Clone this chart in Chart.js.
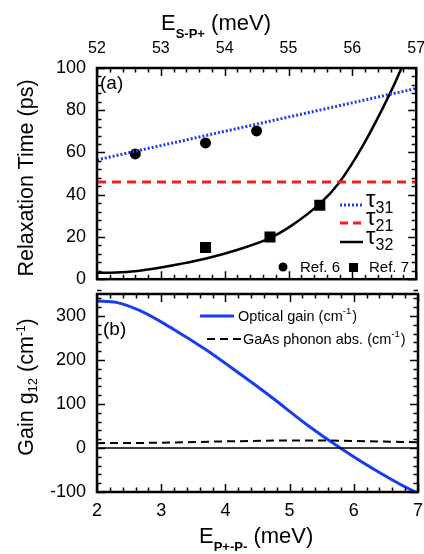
<!DOCTYPE html>
<html>
<head>
<meta charset="utf-8">
<script src="https://cdn.jsdelivr.net/npm/chart.js@4.4.0/dist/chart.umd.min.js"></script>
<style>
  body { margin: 0; background: #fff; font-family: "Liberation Sans", Arial, sans-serif; }
  #wrap { position: relative; width: 424px; height: 554px; overflow: hidden; }
  #topChart { position: absolute; left: 0; top: 0; }
  #botChart { position: absolute; left: 0; top: 287px; }
  .ttl { position: absolute; white-space: nowrap; color: #000; font-size: 22px; line-height: 1; }
  .ttl sub { font-size: 13px; font-weight: bold; vertical-align: -8px; }
  .vt { position: absolute; white-space: nowrap; color: #000; font-size: 21.5px; line-height: 1;
        transform: translate(-50%, -50%) rotate(-90deg); }
  .vt sub { font-size: 13px; vertical-align: -4px; }
  .vt sup { font-size: 12px; vertical-align: 8px; }
</style>
</head>
<body>
<div id="wrap">
  <canvas id="topChart" width="424" height="287"></canvas>
  <canvas id="botChart" width="424" height="267"></canvas>
  <div class="ttl" style="left:161px; top:12px;">E<sub>S-P+</sub> (meV)</div>
  <div class="ttl" style="left:199px; top:525px;">E<sub>P+-P-</sub> (meV)</div>
  <div class="vt" style="left:27px; top:178px;">Relaxation Time (ps)</div>
  <div class="vt" style="left:27px; top:387px;">Gain g<sub>12</sub> (cm<sup>-1</sup>)</div>
</div>
<script>
const FONT = '"Liberation Sans", Arial, sans-serif';

// top panel (a): x in E_S-P+ (meV)
const topTicksX = [52, 53, 54, 55, 56, 57];
const topTicksY = [0, 20, 40, 60, 80, 100];
const tau31X = [52, 57];
const tau31Y = [56.5, 90.3];
const tau21X = [52, 57];
const tau21Y = [46, 46];
const tau32X = [52.0, 52.3, 52.6, 52.93, 53.3, 53.71, 54.23, 54.69, 55.0, 55.5, 55.79, 56.16, 56.59, 56.77, 56.9];
const tau32Y = [3.0, 3.2, 3.8, 5.2, 7.2, 9.8, 14.2, 19.2, 24.4, 36, 45.6, 63, 88, 100, 110];
const ref6X = [52.6, 53.7, 54.5];
const ref6Y = [59.3, 64.5, 70.2];
const ref7X = [53.7, 54.71, 55.49];
const ref7Y = [15, 20, 35];

// bottom panel (b): x in E_P+-P- (meV)
const botTicksX = [2, 3, 4, 5, 6, 7];
const botTicksY = [-100, 0, 100, 200, 300];
const gainX = [2.0, 2.3, 2.67, 3.19, 3.71, 4.23, 4.75, 5.27, 5.79, 6.31, 6.93, 7.0];
const gainY = [334, 331, 312, 270, 222, 168, 112, 53, 0, -48, -98, -102];
const phononX = [2, 3, 4, 5, 5.5, 6, 7];
const phononY = [11, 12, 15, 17, 17, 16, 13];
const zeroX = [2, 7];
const zeroY = [0, 0];

const BLUE = '#1a3cf0';
const RED = '#f51e1e';

function pts(xs, ys) {
  return xs.map((x, i) => ({ x: x, y: ys[i] }));
}

// frame with inward major/minor ticks on all four sides
function frameTicks(xMajor, xMinor, yMajor, yMinor) {
  return {
    id: 'frameTicks',
    afterDatasetsDraw(chart) {
      const { ctx, chartArea: a, scales } = chart;
      const xs = scales.x, ys = scales.y;
      ctx.save();
      ctx.strokeStyle = '#000';
      ctx.lineWidth = 1.5;
      ctx.beginPath();
      const nx = Math.round((xs.max - xs.min) / xMinor);
      for (let i = 0; i <= nx; i++) {
        const v = xs.min + i * xMinor;
        const px = Math.round(xs.getPixelForValue(v)) + 0.5;
        const r = v / xMajor;
        const len = Math.abs(r - Math.round(r)) < 1e-6 ? 8 : 4.5;
        ctx.moveTo(px, a.bottom); ctx.lineTo(px, a.bottom - len);
        ctx.moveTo(px, a.top); ctx.lineTo(px, a.top + len);
      }
      const ny = Math.round((ys.max - ys.min) / yMinor);
      for (let i = 0; i <= ny; i++) {
        const v = ys.min + i * yMinor;
        const py = Math.round(ys.getPixelForValue(v)) + 0.5;
        const r = v / yMajor;
        const len = Math.abs(r - Math.round(r)) < 1e-6 ? 8 : 4.5;
        ctx.moveTo(a.left, py); ctx.lineTo(a.left + len, py);
        ctx.moveTo(a.right, py); ctx.lineTo(a.right - len, py);
      }
      ctx.stroke();
      ctx.lineWidth = 2.5;
      ctx.strokeRect(a.left, a.top, a.right - a.left, a.bottom - a.top);
      ctx.restore();
    }
  };
}

function txt(ctx, s, x, y, size, weight) {
  ctx.font = (weight || 'normal') + ' ' + size + 'px ' + FONT;
  ctx.fillText(s, x, y);
  return x + ctx.measureText(s).width;
}

function seg(ctx, x1, x2, y, color, width, dash) {
  ctx.save();
  ctx.strokeStyle = color;
  ctx.lineWidth = width;
  ctx.setLineDash(dash || []);
  ctx.beginPath();
  ctx.moveTo(x1, y); ctx.lineTo(x2, y);
  ctx.stroke();
  ctx.restore();
}

const topNotes = {
  id: 'topNotes',
  afterDraw(chart) {
    const ctx = chart.ctx;
    ctx.save();
    ctx.fillStyle = '#000';
    ctx.textBaseline = 'alphabetic';
    txt(ctx, '(a)', 100, 89, 19);
    const rows = [
      { y: 205, color: BLUE, w: 3, dash: [2, 2], sub: '31' },
      { y: 223, color: RED, w: 3, dash: [8, 5], sub: '21' },
      { y: 242, color: '#000', w: 2.5, dash: [], sub: '32' }
    ];
    rows.forEach(r => {
      seg(ctx, 340, 363, r.y, r.color, r.w, r.dash);
      const x = txt(ctx, '\u03c4', 366, r.y + 2, 24);
      txt(ctx, r.sub, x, r.y + 8, 16);
    });
    ctx.beginPath();
    ctx.arc(283, 267, 4.5, 0, Math.PI * 2);
    ctx.fill();
    txt(ctx, 'Ref. 6', 300, 272, 15);
    ctx.fillRect(349, 263, 9, 9);
    txt(ctx, 'Ref. 7', 369, 272, 15);
    ctx.restore();
  }
};

const botNotes = {
  id: 'botNotes',
  afterDraw(chart) {
    const ctx = chart.ctx;
    const off = 287;
    ctx.save();
    ctx.fillStyle = '#000';
    txt(ctx, '(b)', 103, 335 - off, 19);
    seg(ctx, 200, 234, 316 - off, BLUE, 3, []);
    let x = txt(ctx, 'Optical gain (cm', 238, 321 - off, 14.5);
    x = txt(ctx, '-1', x, 314 - off, 9.5);
    txt(ctx, ')', x + 1, 321 - off, 14.5);
    seg(ctx, 207, 242, 339 - off, '#000', 2, [8, 5]);
    x = txt(ctx, 'GaAs phonon abs. (cm', 243, 344 - off, 14.5);
    x = txt(ctx, '-1', x, 337 - off, 9.5);
    txt(ctx, ')', x + 1, 344 - off, 14.5);
    ctx.restore();
  }
};

function xAxis(pos, min, max, tickVals, height, pad, size) {
  return {
    type: 'linear', position: pos, min: min, max: max,
    grid: { display: false, drawTicks: false },
    border: { display: false },
    afterBuildTicks: s => { s.ticks = tickVals.map(v => ({ value: v })); },
    afterFit: s => { s.height = height; s.paddingLeft = 0; s.paddingRight = 0; },
    ticks: { padding: pad, color: '#000', font: { size: size, family: FONT }, maxRotation: 0 }
  };
}

function yAxis(min, max, tickVals) {
  return {
    type: 'linear', min: min, max: max,
    grid: { display: false, drawTicks: false },
    border: { display: false },
    afterBuildTicks: s => { s.ticks = tickVals.map(v => ({ value: v })); },
    afterFit: s => { s.width = 97; s.paddingTop = 0; s.paddingBottom = 0; },
    ticks: { padding: 11, color: '#000', font: { size: 18, family: FONT } }
  };
}

new Chart(document.getElementById('topChart'), {
  type: 'scatter',
  data: {
    datasets: [
      { data: pts(tau31X, tau31Y), showLine: true, borderColor: BLUE, borderWidth: 3,
        borderDash: [2, 2], pointRadius: 0 },
      { data: pts(tau21X, tau21Y), showLine: true, borderColor: RED, borderWidth: 3,
        borderDash: [9, 6], pointRadius: 0 },
      { data: pts(tau32X, tau32Y), showLine: true, borderColor: '#000', borderWidth: 2.5,
        cubicInterpolationMode: 'monotone', pointRadius: 0 },
      { data: pts(ref6X, ref6Y), pointStyle: 'circle', pointRadius: 5.5,
        backgroundColor: '#000', borderColor: '#000', borderWidth: 0 },
      { data: pts(ref7X, ref7Y), pointStyle: 'rect', pointRadius: 7.8,
        backgroundColor: '#000', borderColor: '#000', borderWidth: 0 }
    ]
  },
  options: {
    responsive: false,
    animation: false,
    layout: { padding: { left: 0, right: 6, top: 0, bottom: 7 } },
    plugins: { legend: { display: false }, tooltip: { enabled: false } },
    scales: {
      x: xAxis('top', 52, 57, topTicksX, 68, 10, 16),
      y: yAxis(0, 100, topTicksY)
    }
  },
  plugins: [frameTicks(1, 0.2, 20, 4), topNotes]
});

new Chart(document.getElementById('botChart'), {
  type: 'scatter',
  data: {
    datasets: [
      { data: pts(zeroX, zeroY), showLine: true, borderColor: '#000', borderWidth: 1.5, pointRadius: 0 },
      { data: pts(phononX, phononY), showLine: true, borderColor: '#000', borderWidth: 2,
        borderDash: [8, 5], cubicInterpolationMode: 'monotone', pointRadius: 0 },
      { data: pts(gainX, gainY), showLine: true, borderColor: BLUE, borderWidth: 3,
        cubicInterpolationMode: 'monotone', pointRadius: 0 }
    ]
  },
  options: {
    responsive: false,
    animation: false,
    layout: { padding: { left: 0, right: 6, top: 7, bottom: 0 } },
    plugins: { legend: { display: false }, tooltip: { enabled: false } },
    scales: {
      x: xAxis('bottom', 2, 7, botTicksX, 62, 8, 18),
      y: yAxis(-100, 350, botTicksY)
    }
  },
  plugins: [frameTicks(1, 0.2, 100, 20), botNotes]
});
</script>
</body>
</html>
